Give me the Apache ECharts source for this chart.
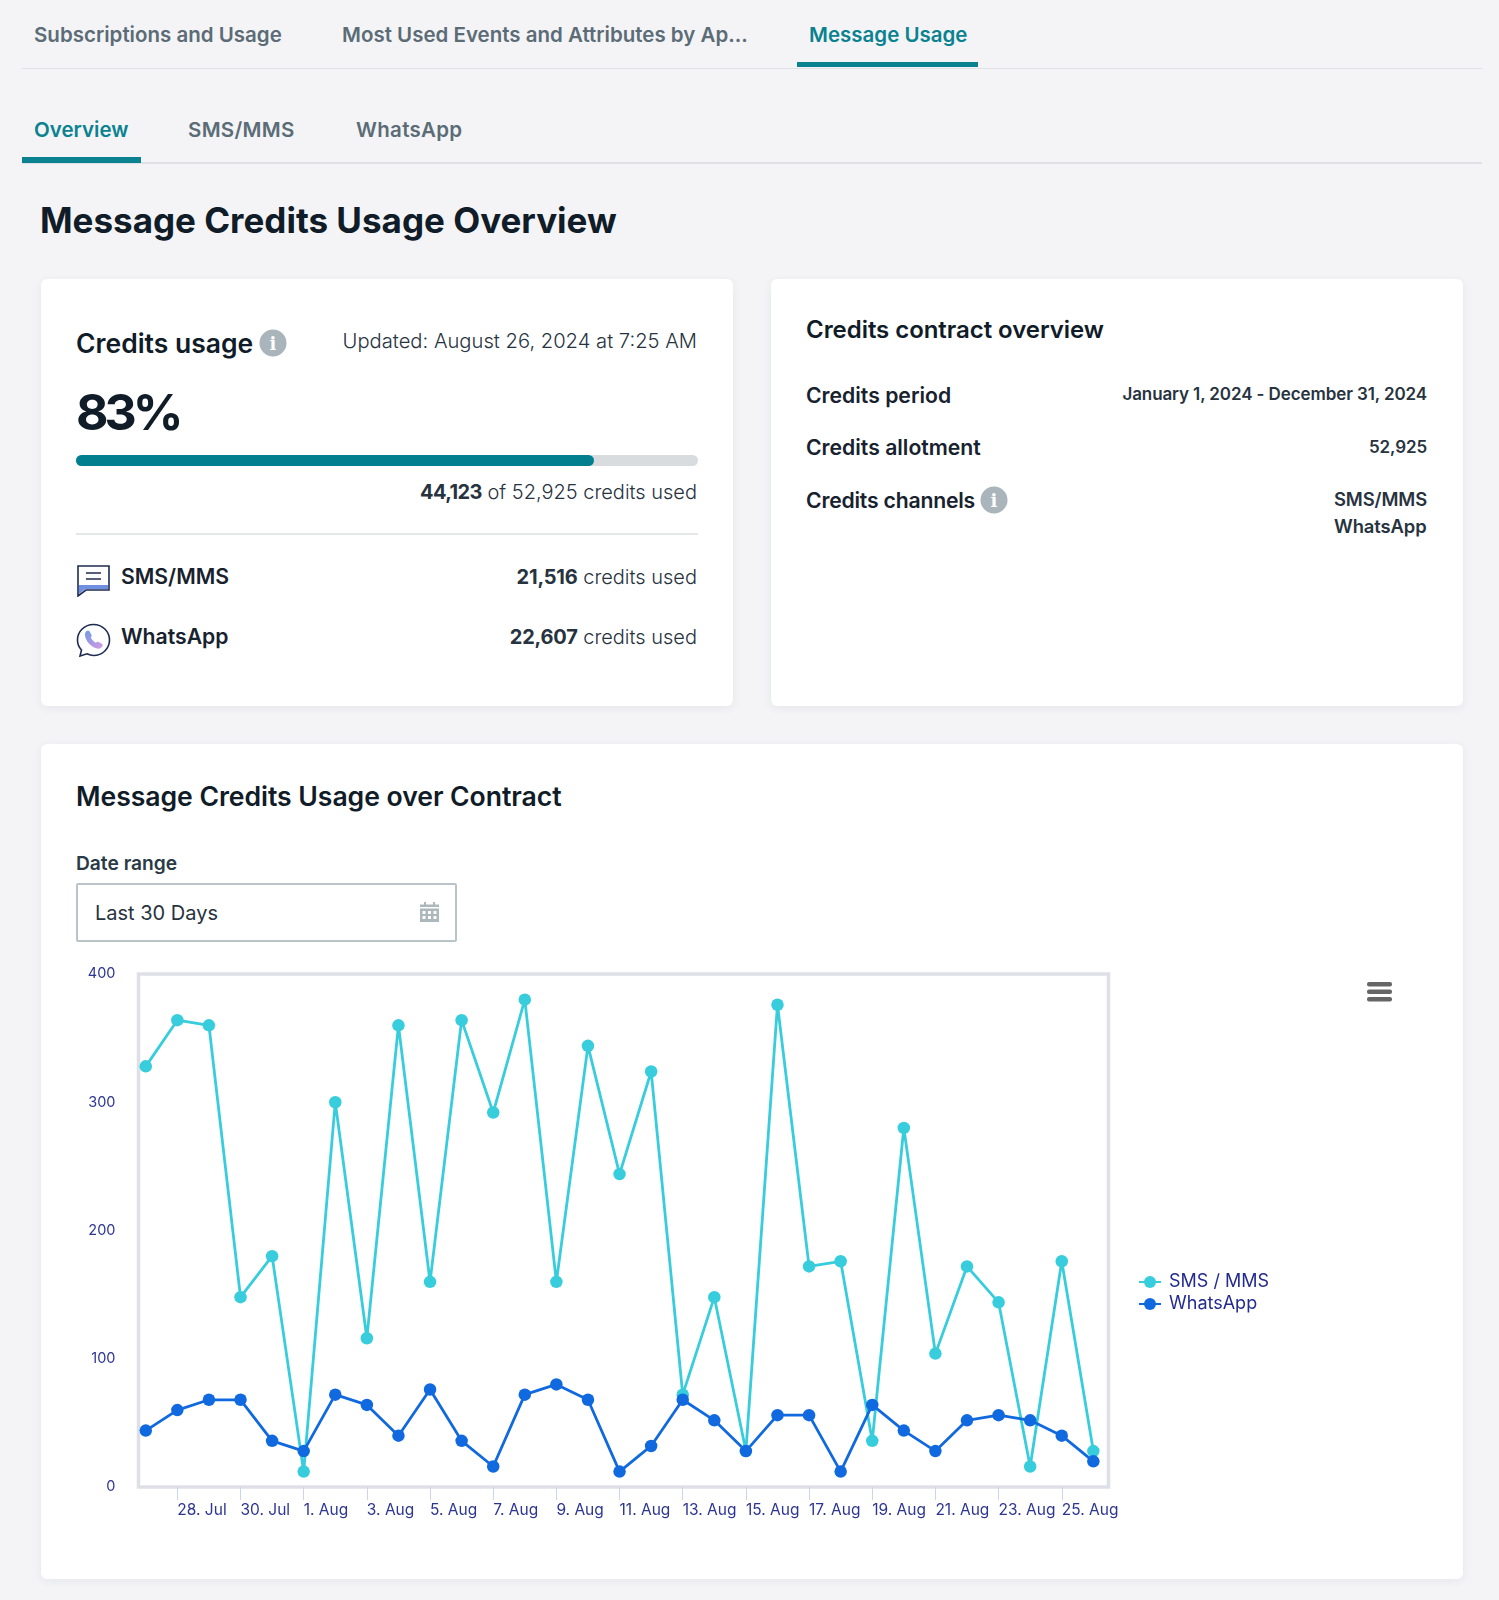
<!DOCTYPE html>
<html>
<head>
<meta charset="utf-8">
<title>Message Usage</title>
<script src="https://cdn.jsdelivr.net/npm/echarts@6/dist/echarts.min.js"></script>
<style>
html,body{margin:0;padding:0;background:#f4f4f7;}
body{position:relative;width:1499px;height:1600px;overflow:hidden;font-family:Inter,"Noto Sans",sans-serif;color:#101c28;}
.t{position:absolute;white-space:nowrap;transform:translateY(-50%);line-height:1;}
.box{position:absolute;}
.card{position:absolute;background:#fff;border-radius:6px;box-shadow:0 2px 8px rgba(40,50,70,.07);}
.tab{font-size:20.5px;font-weight:600;color:#5b6c76;}
.on{color:#0a8290;}
.h2{font-size:24px;font-weight:600;color:#101c28;letter-spacing:-.05px;}
.lab{font-size:21.2px;font-weight:600;color:#17222e;}
.val{font-size:17px;font-weight:600;color:#27333e;letter-spacing:-.1px;}
.num{font-size:20px;font-weight:300;color:#27333e;}
.num b{font-weight:700;letter-spacing:-.2px;}
.info{position:absolute;width:27px;height:27px;border-radius:50%;background:#a9b5ba;color:#fff;font:700 18px/27px "DejaVu Serif",serif;text-align:center;transform:translate(-50%,-50%);}
#chart{position:absolute;left:0;top:950px;width:1499px;height:630px;}
</style>
</head>
<body>
<!-- top tabs -->
<div class="t tab" style="left:34px;top:35px">Subscriptions and Usage</div>
<div class="t tab" style="left:342px;top:35px">Most Used Events and Attributes by Ap...</div>
<div class="t tab on" style="left:809px;top:35px">Message Usage</div>
<div class="box" style="left:22px;top:67.5px;width:1460px;height:1.5px;background:#dfe1e6"></div>
<div class="box" style="left:797px;top:61.5px;width:181px;height:5.5px;background:#0a8290"></div>

<div class="t tab on" style="left:34px;top:130px">Overview</div>
<div class="t tab" style="left:188px;top:130px;letter-spacing:.3px">SMS/MMS</div>
<div class="t tab" style="left:356px;top:130px;letter-spacing:.3px">WhatsApp</div>
<div class="box" style="left:22px;top:162px;width:1460px;height:1.5px;background:#dfe1e6"></div>
<div class="box" style="left:22px;top:156.5px;width:119px;height:6px;background:#0a8290"></div>

<div class="t" style="left:40px;top:220px;font-size:35px;font-weight:700">Message Credits Usage Overview</div>

<!-- credits usage card -->
<div class="card" style="left:41px;top:279px;width:692px;height:427px"></div>
<div class="t" style="left:76px;top:343px;font-size:26.5px;font-weight:600">Credits usage</div>
<div class="info" style="left:273px;top:343px">i</div>
<div class="t num" style="right:802px;top:341px;font-size:20.2px">Updated: August 26, 2024 at 7:25 AM</div>
<div class="t" style="left:76px;top:412px;font-size:50px;font-weight:700;letter-spacing:-4px">83%</div>
<div class="box" style="left:76px;top:454.5px;width:621.5px;height:11.5px;border-radius:6px;background:#d8dcde"></div>
<div class="box" style="left:76px;top:454.5px;width:518px;height:11.5px;border-radius:6px;background:#017f8f"></div>
<div class="t num" style="right:802px;top:492px"><b style="letter-spacing:-.6px">44,123</b> of 52,925 credits used</div>
<div class="box" style="left:76px;top:533px;width:621.5px;height:1.5px;background:#e4e6e8"></div>

<svg class="box" style="left:77px;top:565px" width="33" height="32" viewBox="0 0 33 32">
  <path d="M1 1H32V25H9L1 31Z" fill="#fff" stroke="#1e2b52" stroke-width="1.6"/>
  <path d="M2 20H31V24H8.5L2 29Z" fill="#6f8fe0"/>
  <path d="M9 8H24M9 14H24" stroke="#1e2b52" stroke-width="1.6"/>
</svg>
<div class="t lab" style="left:121px;top:577px">SMS/MMS</div>
<div class="t num" style="right:802px;top:577px"><b>21,516</b> credits used</div>

<svg class="box" style="left:76px;top:623px" width="35" height="35" viewBox="0 0 35 35">
  <defs><linearGradient id="ph" x1="0" y1="0" x2="1" y2="1"><stop offset="0" stop-color="#6f9be8"/><stop offset="1" stop-color="#d79be0"/></linearGradient></defs>
  <path d="M17.5 1.5C8.6 1.5 1.5 8.4 1.5 17C1.5 21 3 24.4 5.5 27L4 33L11 30.8C13.2 31.9 15.3 32.5 17.5 32.5C26.4 32.5 33.5 25.6 33.5 17C33.5 8.4 26.4 1.5 17.5 1.5Z" fill="#fff" stroke="#1e2b52" stroke-width="1.6"/>
  <path d="M10 8.5C8.6 10 8.6 13 10 16C12 20.5 16.5 24.5 21 25.5C23.5 26 25.5 25 26.5 23C27 22 26.5 21 25.5 20.5L22.5 19C21.5 18.5 20.5 19 20 19.8C18 19 15.5 16.5 14.8 14.5C15.5 14 16 13 15.5 12L14 9C13.3 7.5 11.2 7.3 10 8.5Z" fill="url(#ph)"/>
</svg>
<div class="t lab" style="left:121px;top:637px">WhatsApp</div>
<div class="t num" style="right:802px;top:637px"><b>22,607</b> credits used</div>

<!-- contract card -->
<div class="card" style="left:770.5px;top:279px;width:692px;height:427px"></div>
<div class="t h2" style="left:806px;top:330px">Credits contract overview</div>
<div class="t lab" style="left:806px;top:396px">Credits period</div>
<div class="t val" style="right:72px;top:394px">January 1, 2024 - December 31, 2024</div>
<div class="t lab" style="left:806px;top:448px">Credits allotment</div>
<div class="t val" style="right:72px;top:447px">52,925</div>
<div class="t lab" style="left:806px;top:500.5px;letter-spacing:-.2px">Credits channels</div>
<div class="info" style="left:994px;top:500px">i</div>
<div class="t val" style="left:1334px;top:499px;font-size:18.4px">SMS/MMS</div>
<div class="t val" style="left:1334px;top:526px;font-size:18.4px">WhatsApp</div>

<!-- chart card -->
<div class="card" style="left:41px;top:743.5px;width:1421.5px;height:835px"></div>
<div class="t h2" style="left:76px;top:796px;font-size:26.6px">Message Credits Usage over Contract</div>
<div class="t" style="left:76px;top:863.5px;font-size:19.2px;font-weight:600;color:#2a3a46">Date range</div>
<div class="box" style="left:76px;top:882.5px;width:377px;height:55px;border:2px solid #b9c3c8;border-radius:2px;background:#fff"></div>
<div class="t" style="left:95px;top:912.5px;font-size:20px;color:#27333e">Last 30 Days</div>
<svg class="box" style="left:420px;top:901px" width="19" height="21" viewBox="0 0 19 21">
  <path d="M0 6V3.5H4V1H6V3.5H13V1H15V3.5H19V6Z" fill="#adb8bd"/>
  <path d="M0 7.5H19V21H0Z" fill="#adb8bd"/>
  <path d="M2.5 10h3v3h-3zM8 10h3v3H8zM13.5 10h3v3h-3zM2.5 15h3v3h-3zM8 15h3v3H8zM13.5 15h3v3h-3z" fill="#fff"/>
</svg>

<div id="chart"></div>

<script>
var days = ['27. Jul','28. Jul','29. Jul','30. Jul','31. Jul','1. Aug','2. Aug','3. Aug','4. Aug','5. Aug','6. Aug',
  '7. Aug','8. Aug','9. Aug','10. Aug','11. Aug','12. Aug','13. Aug','14. Aug','15. Aug','16. Aug','17. Aug','18. Aug',
  '19. Aug','20. Aug','21. Aug','22. Aug','23. Aug','24. Aug','25. Aug','26. Aug'];
var smsValues = [328,364,360,148,180,12,300,116,360,160,364,292,380,160,344,244,324,72,148,28,376,172,176,36,280,104,172,144,16,176,28];
var whatsappValues = [44,60,68,68,36,28,72,64,40,76,36,16,72,80,68,12,32,68,52,28,56,56,12,64,44,28,52,56,52,40,20];
var yTicks = [0,100,200,300,400];
var xTickIndexes = [1,3,5,7,9,11,13,15,17,19,21,23,25,27,29];

var axisText = '#2d3592';
var chart = echarts.init(document.getElementById('chart'));

function toPoints(list){
  return list.map(function(v,i){ return [i,v]; });
}

chart.setOption({
  animation:false,
  grid:{
    left:138.5, top:24, width:970, height:513,
    show:true, backgroundColor:'#fff', borderColor:'#dfdfe8', borderWidth:3.5
  },
  xAxis:{
    type:'value', min:-0.23, max:30.48,
    splitLine:{show:false},
    axisLine:{show:false},
    axisTick:{show:true, length:13, customValues:xTickIndexes, lineStyle:{color:'#ccd6eb',width:1}},
    axisLabel:{
      customValues:xTickIndexes, color:axisText, fontFamily:'Inter', fontSize:15.5, letterSpacing:-0.3,
      align:'left', margin:15, hideOverlap:false, showMinLabel:true, showMaxLabel:true,
      formatter:function(v){ return days[v]; }
    }
  },
  yAxis:{
    type:'value', min:yTicks[0], max:yTicks[4], interval:100,
    splitLine:{show:false}, axisLine:{show:false}, axisTick:{show:false},
    axisLabel:{color:axisText, fontFamily:'Inter', fontSize:14.5, margin:23, padding:[4,0,0,0]}
  },
  legend:{
    orient:'vertical', left:1138, top:323, padding:0, itemWidth:22, itemHeight:15, itemGap:4,
    textStyle:{color:'#232b8f', fontFamily:'Inter', fontSize:18, lineHeight:15, padding:[0,0,0,3]},
    data:['SMS / MMS','WhatsApp']
  },
  series:[
    {name:'SMS / MMS', type:'line', data:toPoints(smsValues), color:'#37cddc',
      symbol:'circle', symbolSize:12.5, lineStyle:{width:2.8}, itemStyle:{color:'#37cddc'}},
    {name:'WhatsApp', type:'line', data:toPoints(whatsappValues), color:'#1169df',
      symbol:'circle', symbolSize:12.5, lineStyle:{width:2.8}, itemStyle:{color:'#1169df'}}
  ],
  graphic:[
    {type:'rect', left:1367, top:32, shape:{width:25,height:4.5,r:2}, style:{fill:'#666'}},
    {type:'rect', left:1367, top:39.5, shape:{width:25,height:4.5,r:2}, style:{fill:'#666'}},
    {type:'rect', left:1367, top:47, shape:{width:25,height:4.5,r:2}, style:{fill:'#666'}}
  ]
});
</script>
</body>
</html>
